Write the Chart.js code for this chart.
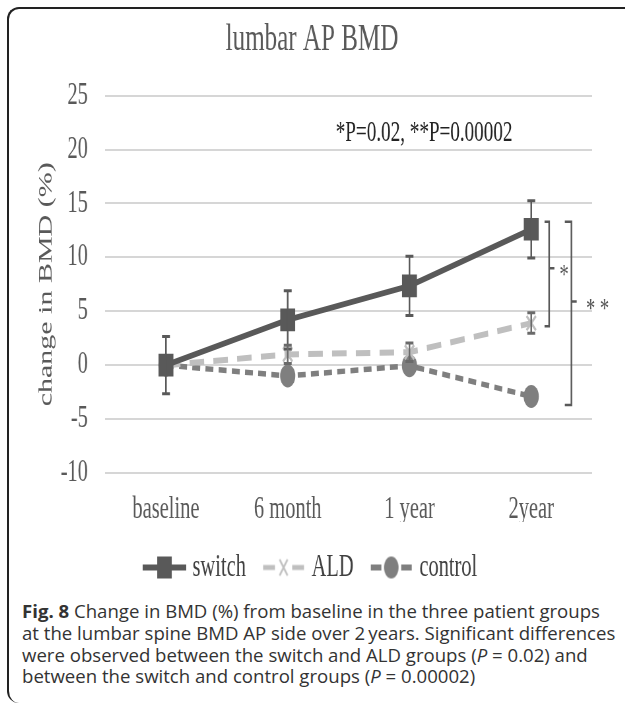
<!DOCTYPE html>
<html>
<head>
<meta charset="utf-8">
<script src="https://cdn.jsdelivr.net/npm/chart.js@4.4.1/dist/chart.umd.min.js"></script>
<style>
  html, body { margin: 0; padding: 0; background: #fff; overflow: hidden; }
  body { width: 625px; height: 706px; position: relative; }
  .frame {
    position: absolute; left: 7px; top: 7px; width: 640px; height: 694px;
    border-top: 2px solid #222; border-left: 2px solid #222;
    border-radius: 12px 0 0 12px;
  }
  .wrap {
    position: absolute; left: 10px; top: 10px; width: 930px; height: 585px;
    transform: scaleX(0.66); transform-origin: 0 0;
  }
  .caption {
    position: absolute; left: 22px; top: 600px; white-space: nowrap;
    font-family: "Open Sans", sans-serif; font-size: 18.6px; line-height: 21.8px; color: #333;
  }
</style>
</head>
<body>
<div class="frame"></div>
<div class="wrap"><canvas id="chart" width="930" height="585"></canvas></div>
<div class="caption"><b>Fig. 8</b> Change in BMD (%) from baseline in the three patient groups<br>at the lumbar spine BMD AP side over 2&#8201;years. Significant differences<br>were observed between the switch and ALD groups (<i>P</i> = 0.02) and<br>between the switch and control groups (<i>P</i> = 0.00002)</div>

<script>
const labels = ['baseline', '6 month', '1 year', '2year'];
const switchVals = [0, 4.2, 7.35, 12.6];
const aldVals = [0, 1.0, 1.2, 3.9];
const controlVals = [0, -1.0, -0.05, -2.9];
const switchErr = [2.65, 2.7, 2.75, 2.65];
const aldErr = [0, 0.85, 0.85, 0.95];
const yTicks = [-10, -5, 0, 5, 10, 15, 20, 25];

// significance brackets (x in category units, y in data units)
const brackets = [
  { x: 3.147, top: 13.3, bottom: 3.6, label: '*', labelX: 3.27, mid: 9.0 },
  { x: 3.33, top: 13.3, bottom: -3.7, label: '* *', labelX: 3.545, mid: 5.9 }
];
const noteText = '*P=0.02, **P=0.00002';
const noteX = 2.12, noteY = 21.5;

const cSwitch = '#595959';
const cAld = '#bfbfbf';
const cControl = '#7f7f7f';
const serif = 'Liberation Serif';

function legendImg(kind) {
  const c = document.createElement('canvas');
  c.width = 66; c.height = 30;
  const g = c.getContext('2d');
  if (kind === 'switch') {
    g.strokeStyle = cSwitch; g.lineWidth = 6;
    g.beginPath(); g.moveTo(0, 15); g.lineTo(66, 15); g.stroke();
    g.fillStyle = cSwitch; g.fillRect(22, 4, 22, 22);
  } else if (kind === 'ald') {
    g.strokeStyle = cAld; g.lineWidth = 5;
    g.beginPath(); g.moveTo(2, 15); g.lineTo(20, 15); g.moveTo(46, 15); g.lineTo(64, 15); g.stroke();
    g.lineWidth = 2.5;
    g.beginPath(); g.moveTo(27, 7); g.lineTo(39, 23); g.moveTo(39, 7); g.lineTo(27, 23); g.stroke();
  } else {
    g.strokeStyle = cControl; g.lineWidth = 6;
    g.beginPath(); g.moveTo(2, 15); g.lineTo(18, 15); g.moveTo(48, 15); g.lineTo(64, 15); g.stroke();
    g.fillStyle = cControl; g.beginPath(); g.arc(33, 15, 11, 0, Math.PI * 2); g.fill();
  }
  return c;
}
const legendIcons = [legendImg('switch'), legendImg('ald'), legendImg('control')];

// error bars + brackets + note, all placed through the chart scales
const extras = {
  id: 'extras',
  afterDatasetsDraw(chart) {
    const { ctx, scales: { x, y } } = chart;
    ctx.save();
    const errSets = [[switchVals, switchErr, cSwitch], [aldVals, aldErr, '#6a6a6a']];
    errSets.forEach(([vals, errs, col]) => {
      ctx.strokeStyle = col;
      vals.forEach((v, i) => {
        if (!errs[i]) return;
        const px = x.getPixelForValue(i);
        const yt = y.getPixelForValue(v + errs[i]);
        const yb = y.getPixelForValue(v - errs[i]);
        ctx.lineWidth = 2.5;
        ctx.beginPath(); ctx.moveTo(px, yt); ctx.lineTo(px, yb); ctx.stroke();
        ctx.lineWidth = 3;
        ctx.beginPath();
        ctx.moveTo(px - 6, yt); ctx.lineTo(px + 6, yt);
        ctx.moveTo(px - 6, yb); ctx.lineTo(px + 6, yb);
        ctx.stroke();
      });
    });

    ctx.strokeStyle = cSwitch; ctx.fillStyle = '#555';
    ctx.lineWidth = 2.5;
    brackets.forEach((b, k) => {
      const bx = x.getPixelForValue(b.x);
      const arm = k === 0 ? 7 : 10;
      const yt = y.getPixelForValue(b.top), yb = y.getPixelForValue(b.bottom);
      const ym = y.getPixelForValue(b.mid);
      ctx.beginPath();
      ctx.moveTo(bx - arm, yt); ctx.lineTo(bx, yt); ctx.lineTo(bx, yb); ctx.lineTo(bx - arm, yb);
      ctx.moveTo(bx, ym); ctx.lineTo(bx + 8, ym);
      ctx.stroke();
      ctx.font = '28px "' + serif + '"';
      ctx.textAlign = 'center'; ctx.textBaseline = 'middle';
      ctx.fillText(b.label, x.getPixelForValue(b.labelX), ym + 8);
    });

    ctx.fillStyle = '#222';
    ctx.font = '29px "' + serif + '"';
    ctx.textAlign = 'center'; ctx.textBaseline = 'middle';
    ctx.fillText(noteText, x.getPixelForValue(noteX), y.getPixelForValue(noteY));
    ctx.restore();
  }
};

new Chart(document.getElementById('chart'), {
  type: 'line',
  data: {
    labels: labels,
    datasets: [
      {
        label: 'switch', data: switchVals,
        borderColor: cSwitch, backgroundColor: cSwitch, borderWidth: 6,
        pointStyle: 'rect', pointRadius: 16, pointBackgroundColor: cSwitch, pointBorderColor: cSwitch,
        pointBorderWidth: 0, tension: 0
      },
      {
        label: 'ALD', data: aldVals,
        borderColor: cAld, backgroundColor: cAld, borderWidth: 6, borderDash: [22, 14],
        pointStyle: 'crossRot', pointRadius: 10, pointBorderColor: cAld, pointBorderWidth: 3, tension: 0
      },
      {
        label: 'control', data: controlVals,
        borderColor: cControl, backgroundColor: cControl, borderWidth: 5.5, borderDash: [12, 8],
        pointStyle: 'circle', pointRadius: 11.5, pointBackgroundColor: cControl, pointBorderColor: cControl,
        pointBorderWidth: 0, tension: 0
      }
    ]
  },
  options: {
    responsive: false,
    animation: false,
    devicePixelRatio: 1,
    layout: { padding: { left: 33, right: 48, top: 0, bottom: 2 } },
    plugins: {
      title: {
        display: true, text: 'lumbar AP BMD', color: '#595959',
        font: { family: serif, size: 38, weight: 'normal' },
        padding: { top: 7, bottom: 33 }
      },
      legend: {
        position: 'bottom',
        labels: {
          usePointStyle: true, pointStyleWidth: 54, padding: 30, color: '#404040',
          font: { family: serif, size: 31 },
          generateLabels: (chart) => chart.data.datasets.map((ds, i) => ({
            text: ds.label, pointStyle: legendIcons[i], fontColor: '#404040',
            hidden: false, datasetIndex: i, lineWidth: 0, strokeStyle: 'transparent', fillStyle: 'transparent'
          }))
        }
      },
      tooltip: { enabled: false }
    },
    scales: {
      x: {
        offset: true,
        afterFit: (s) => { s.height = 49; },
        grid: { display: false, drawTicks: false },
        border: { display: false },
        ticks: { color: '#595959', font: { family: serif, size: 31 }, padding: 18, maxRotation: 0, autoSkip: false }
      },
      y: {
        min: -10, max: 25,
        afterBuildTicks: (s) => { s.ticks = yTicks.map(v => ({ value: v })); },
        afterFit: (s) => { s.width = 111; },
        grid: { color: '#d6d6d6', lineWidth: 2, drawTicks: false },
        border: { display: false },
        ticks: { color: '#595959', font: { family: serif, size: 31 }, padding: 26 },
        title: {
          display: true, text: 'change in BMD (%)', color: '#595959',
          font: { family: serif, size: 30 }, padding: { top: 4, bottom: 4 }
        }
      }
    }
  },
  plugins: [extras]
});
</script>
</body>
</html>
